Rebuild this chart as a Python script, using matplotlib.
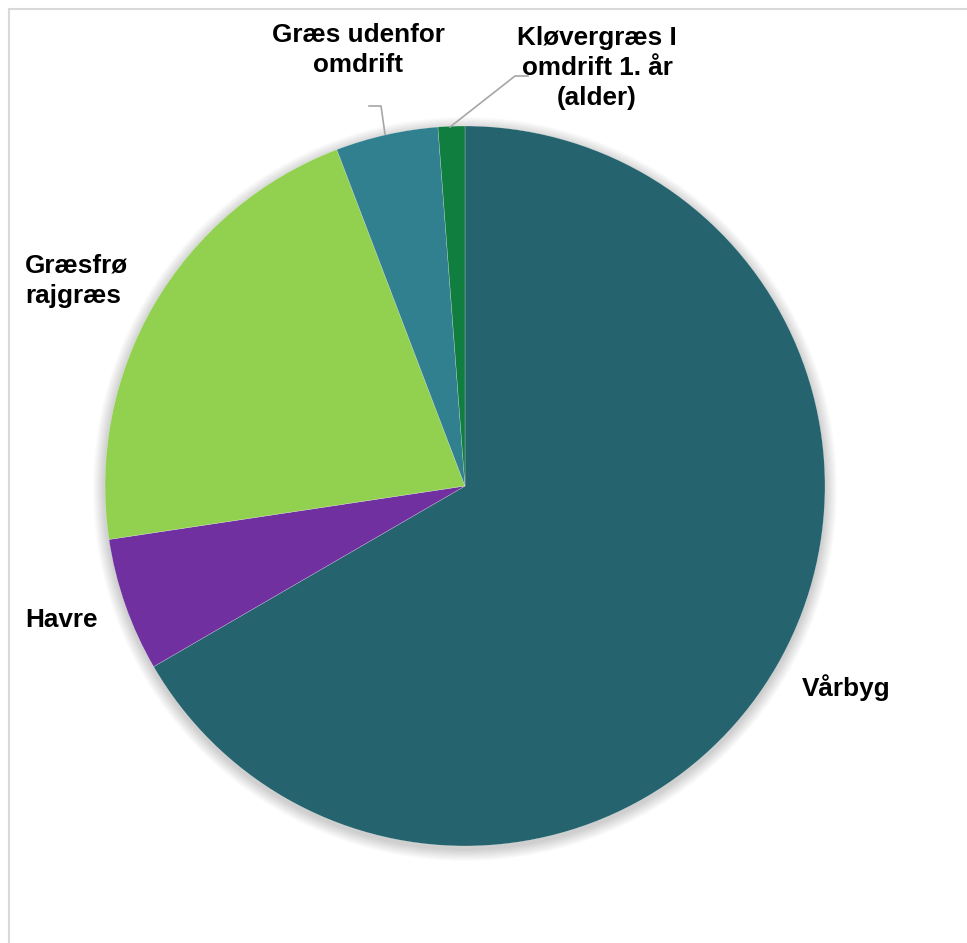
import matplotlib.pyplot as plt
from matplotlib.patches import Circle, Rectangle

# data
labels = ['Vårbyg', 'Havre', 'Græsfrø\nrajgræs', 'Græs udenfor\nomdrift',
          'Kløvergræs I\nomdrift 1. år\n(alder)']
values = [66.7, 6.0, 21.6, 4.6, 1.2]
colors = ['#25636E', '#7030A0', '#92D050', '#31808F', '#0F7E3E']

W, H = 967, 943
fig = plt.figure(figsize=(W / 100, H / 100), dpi=100)
ax = fig.add_axes([0, 0, 1, 1])

cx, cy, r = 465, H - 486, 360

# soft shadow
for k in range(12, 0, -1):
    ax.add_patch(Circle((cx, cy - 3), r + k, color='#000000', alpha=0.016, lw=0, zorder=0))

ax.pie(values, colors=colors, startangle=90, counterclock=False,
       center=(cx, cy), radius=r, frame=True,
       wedgeprops=dict(edgecolor=(1, 1, 1, 0.5), linewidth=0.3))
ax.set_xlim(0, W)
ax.set_ylim(0, H)
ax.axis('off')

font = dict(family=['Liberation Sans', 'DejaVu Sans'], fontweight='bold', fontsize=18.8, color='black')
ax.text(846, H - 688, labels[0], ha='center', va='center', **font)
ax.text(25, H - 620, labels[1], ha='left', va='center', **font)
ax.text(25, H - 281, labels[2], ha='left', va='center', linespacing=1.32, **font)
ax.text(358, H - 50, labels[3], ha='center', va='center', linespacing=1.32, **font)
ax.text(597, H - 68, labels[4], ha='center', va='center', linespacing=1.32, **font)

# leader lines
ax.plot([385, 381, 369], [H - 134, H - 106, H - 106], color='#A6A6A6', lw=1.2)
ax.plot([450, 515, 528], [H - 127, H - 76, H - 76], color='#A6A6A6', lw=1.2)

# chart border
fig.patches.append(Rectangle((9 / W, -0.1), 1.2, (H - 9) / H + 0.1, transform=fig.transFigure,
                             fill=False, edgecolor='#D9D9D9', lw=1.5))

fig.savefig('out.png', dpi=100)
